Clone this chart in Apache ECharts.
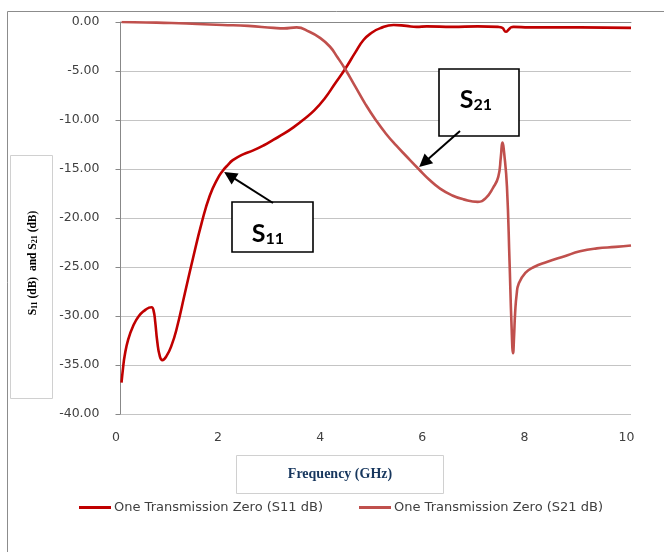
<!DOCTYPE html>
<html>
<head>
<meta charset="utf-8">
<script src="https://cdn.jsdelivr.net/npm/echarts@6/dist/echarts.min.js"></script>
<style>
html,body{margin:0;padding:0;background:#fff;}
#c{width:664px;height:552px;}
</style>
</head>
<body>
<div id="c"></div>
<script>
// ---- data ----
const seriesNames = ['One Transmission Zero (S11 dB)', 'One Transmission Zero (S21 dB)'];
const freqS11 = [0.02,0.05,0.08,0.15,0.25,0.36,0.48,0.56,0.61,0.65,0.68,0.72,0.77,0.82,0.9,1.0,1.1,1.26,1.42,1.59,1.75,1.9,2.0,2.1,2.2,2.4,2.6,2.8,3.0,3.2,3.4,3.6,3.8,4.0,4.2,4.4,4.6,4.76,4.92,5.08,5.35,5.6,5.8,6.0,6.5,7.0,7.4,7.48,7.55,7.6,7.65,7.7,8.0,9.0,10.0];
const valS11  = [-36.8,-35.3,-34.1,-32.4,-31.0,-30.0,-29.4,-29.15,-29.1,-29.5,-30.6,-32.6,-34.1,-34.5,-34.1,-33.0,-31.3,-27.7,-24.1,-20.5,-17.7,-16.0,-15.2,-14.6,-14.1,-13.5,-13.1,-12.6,-12.0,-11.4,-10.7,-9.9,-9.0,-7.8,-6.3,-4.8,-3.1,-1.84,-1.1,-0.65,-0.3,-0.4,-0.5,-0.45,-0.5,-0.45,-0.5,-0.6,-1.0,-0.8,-0.55,-0.5,-0.55,-0.55,-0.6];
const freqS21 = [0.02,0.5,1.0,1.5,2.0,2.5,3.0,3.2,3.45,3.7,3.9,4.1,4.25,4.4,4.6,4.8,5.0,5.2,5.4,5.6,5.84,6.05,6.26,6.5,6.72,7.0,7.15,7.3,7.4,7.45,7.48,7.52,7.57,7.62,7.66,7.69,7.71,7.73,7.76,7.8,7.93,8.1,8.35,8.7,9.0,9.33,9.7,10.0];
const valS21  = [0,-0.05,-0.1,-0.2,-0.3,-0.4,-0.6,-0.65,-0.55,-1.0,-1.6,-2.5,-3.6,-4.8,-6.6,-8.4,-10.0,-11.4,-12.6,-13.7,-15.0,-16.1,-17.0,-17.7,-18.1,-18.35,-18.0,-16.9,-15.8,-13.8,-12.3,-13.6,-16.8,-24.3,-31.0,-33.8,-32.0,-29.7,-27.8,-26.7,-25.6,-25.0,-24.5,-23.9,-23.4,-23.1,-22.95,-22.8];
const xTicks = {min:0, max:10, interval:2};
const yTicks = {min:-40, max:0, interval:5};
// annotation anchor points (data coords the arrows point at)
const annS11Tip = [2.03, -15.3];
const annS21Tip = [5.85, -14.8];

const chart = echarts.init(document.getElementById('c'), null, {renderer:'canvas'});
const navy = '#17375E';
const tickFont = {fontFamily:'DejaVu Sans', fontSize:12.5, color:'#404040'};

chart.setOption({
  animation:false,
  backgroundColor:'#fff',
  grid:{left:120.5, right:33, top:22, bottom:138, containLabel:false},
  xAxis:{type:'value', min:xTicks.min, max:xTicks.max, interval:xTicks.interval,
    axisLine:{show:true, lineStyle:{color:'#888', width:1}},
    axisTick:{show:false},
    splitLine:{show:false},
    axisLabel:Object.assign({margin:17, padding:[0,9,0,0]}, tickFont)},
  yAxis:{type:'value', min:yTicks.min, max:yTicks.max, interval:yTicks.interval,
    axisLine:{show:true, lineStyle:{color:'#888', width:1}},
    axisTick:{show:true, inside:false, length:5, lineStyle:{color:'#888'}},
    splitLine:{show:true, lineStyle:{color:'#C4C4C4', width:1}},
    axisLabel:Object.assign({margin:21, formatter:v=>v.toFixed(2)}, tickFont)},
  legend:{left:79, top:501, padding:0, icon:'rect', itemWidth:32, itemHeight:3, itemGap:36,
    textStyle:{fontFamily:'DejaVu Sans', fontSize:13, color:'#404040', padding:[0,0,0,-2]},
    data:seriesNames},
  series:[
    {name:seriesNames[0], type:'line', showSymbol:false, symbol:'none', smooth:0.5,
     lineStyle:{color:'#C00000', width:2.6}, itemStyle:{color:'#C00000'},
     data:freqS11.map((f,i)=>[f,valS11[i]])},
    {name:seriesNames[1], type:'line', showSymbol:false, symbol:'none', smooth:0.5,
     lineStyle:{color:'#C0504D', width:2.6}, itemStyle:{color:'#C0504D'},
     data:freqS21.map((f,i)=>[f,valS21[i]])}
  ]
});

function arrow(tail, tip){
  const dx = tip[0]-tail[0], dy = tip[1]-tail[1];
  const len = Math.hypot(dx,dy); const ux=dx/len, uy=dy/len; const nx=-uy, ny=ux;
  const L=13, W=6.5;
  const bx = tip[0]-L*ux, by = tip[1]-L*uy;
  return [
    {type:'line', shape:{x1:tail[0], y1:tail[1], x2:bx+2*ux, y2:by+2*uy}, style:{stroke:'#000', lineWidth:2}, z:100},
    {type:'polygon', shape:{points:[[tip[0],tip[1]],[bx+W*nx,by+W*ny],[bx-W*nx,by-W*ny]]}, style:{fill:'#000'}, z:100}
  ];
}

const tip11 = chart.convertToPixel({gridIndex:0}, annS11Tip);
const tip21 = chart.convertToPixel({gridIndex:0}, annS21Tip);

const subRich = {
  S:{fontFamily:'Lato', fontWeight:'bold', fontSize:25, color:'#000', lineHeight:26},
  sub:{fontFamily:'Lato', fontWeight:'bold', fontSize:16, color:'#000', verticalAlign:'bottom', lineHeight:26, padding:[8,0,0,0]}
};
const titleRich = {
  m:{fontFamily:'Liberation Serif', fontWeight:'bold', fontSize:11.5, color:navy, lineHeight:14},
  s:{fontFamily:'Liberation Serif', fontWeight:'bold', fontSize:8, color:navy, lineHeight:14, padding:[4,0,0,0]}
};

chart.setOption({
  graphic:[
    // outer chart border
    {type:'rect', shape:{x:7.5, y:11.5, width:700, height:600}, style:{fill:'none', stroke:'#8C8C8C', lineWidth:1}, z:-10, silent:true},
    // y-axis title box
    {type:'rect', shape:{x:10.5, y:155.5, width:42, height:243}, style:{fill:'#fff', stroke:'#D0D0D0', lineWidth:1}, z:50},
    {type:'text', x:33, y:263, rotation:Math.PI/2, z:51,
     style:{text:'{m|S}{s|11}{m| (dB)  and S}{s|21}{m| (dB)}', rich:titleRich, align:'center', verticalAlign:'middle'}},
    // x-axis title box
    {type:'rect', shape:{x:236.5, y:455.5, width:207, height:38}, style:{fill:'#fff', stroke:'#D0D0D0', lineWidth:1}, z:50},
    {type:'text', x:340, y:474, z:51,
     style:{text:'Frequency (GHz)', fontFamily:'Liberation Serif', fontWeight:'bold', fontSize:14, fill:navy, align:'center', verticalAlign:'middle'}},
    // S11 annotation
    {type:'rect', shape:{x:232, y:202, width:81, height:50}, style:{fill:'#fff', stroke:'#000', lineWidth:1.6}, z:90},
    {type:'text', x:268, y:234, z:91,
     style:{text:'{S|S}{sub|11}', rich:subRich, align:'center', verticalAlign:'middle'}},
    ...arrow([273,203], tip11),
    // S21 annotation
    {type:'rect', shape:{x:439, y:69, width:80, height:67}, style:{fill:'#fff', stroke:'#000', lineWidth:1.6}, z:90},
    {type:'text', x:476, y:100, z:91,
     style:{text:'{S|S}{sub|21}', rich:subRich, align:'center', verticalAlign:'middle'}},
    ...arrow([460,131], tip21)
  ]
});
</script>
</body>
</html>
